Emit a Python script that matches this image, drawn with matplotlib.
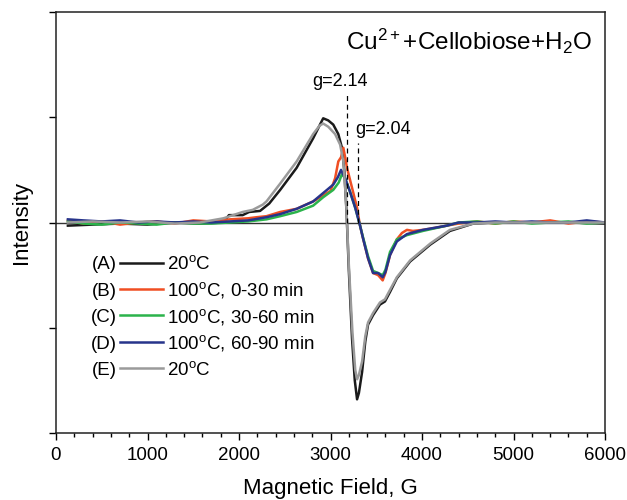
import matplotlib
matplotlib.use('Agg')
import matplotlib.pyplot as plt

plt.rcParams['font.family'] = ['Liberation Sans', 'DejaVu Sans']
plt.rcParams['mathtext.fontset'] = 'custom'
plt.rcParams['mathtext.rm'] = 'Liberation Sans'
plt.rcParams['mathtext.it'] = 'Liberation Sans:italic'
plt.rcParams['mathtext.bf'] = 'Liberation Sans:bold'

# (A) 20 C
field_a = [130, 400, 700, 1000, 1300, 1570, 1830, 1890, 2040, 2110, 2230, 2330, 2450, 2630,
           2810, 2885, 2920, 2975, 3030, 3085, 3125, 3150, 3175, 3200, 3235, 3265, 3290, 3310,
           3345, 3380, 3410, 3465, 3540, 3595, 3650, 3725, 3870, 4090, 4305, 4560, 4800, 5200,
           5600, 6000]
int_a = [-0.03, -0.02, -0.01, -0.02, 0.0, -0.01, 0.0, 0.07, 0.07, 0.10, 0.11, 0.18, 0.31, 0.52,
         0.80, 0.93, 0.99, 0.97, 0.93, 0.84, 0.71, 0.50, 0.10, -0.45, -1.10, -1.50, -1.68, -1.62,
         -1.42, -1.13, -0.97, -0.88, -0.78, -0.75, -0.66, -0.53, -0.37, -0.21, -0.08, -0.01, 0.0, 0.0,
         0.0, -0.01]

# (B) 100 C, 0-30 min
field_b = [130, 300, 500, 700, 900, 1100, 1300, 1500, 1700, 1900, 2100, 2190, 2300, 2450, 2630,
           2810, 3000, 3050, 3085, 3115, 3140, 3160, 3180, 3235, 3290, 3320, 3355, 3410, 3465,
           3520, 3570, 3600, 3650, 3725, 3780, 3835, 3900, 4010, 4150, 4270, 4400, 4600, 4800,
           5000, 5200, 5400, 5600, 5800, 6000]
int_b = [0.02, -0.01, 0.01, -0.02, 0.0, 0.01, -0.01, 0.02, 0.01, 0.03, 0.04, 0.05, 0.06, 0.10, 0.13,
         0.20, 0.30, 0.42, 0.58, 0.62, 0.71, 0.62, 0.52, 0.33, 0.14, -0.02, -0.15, -0.34, -0.48,
         -0.50, -0.55, -0.48, -0.31, -0.16, -0.10, -0.07, -0.08, -0.07, -0.05, -0.03, -0.01, 0.01, -0.01,
         0.01, 0.0, 0.02, -0.01, 0.01, 0.0]

# (C) 100 C, 30-60 min
field_c = [130, 300, 500, 700, 900, 1100, 1300, 1500, 1700, 1900, 2100, 2300, 2450, 2630, 2810,
           2920, 3030, 3090, 3125, 3160, 3210, 3270, 3320, 3355, 3410, 3465, 3520, 3570, 3600,
           3650, 3725, 3835, 4010, 4270, 4400, 4600, 4800, 5000, 5200, 5400, 5600, 5800, 6000]
int_c = [0.01, -0.01, -0.02, 0.0, -0.01, -0.02, 0.0, -0.01, -0.01, 0.0, 0.01, 0.03, 0.06, 0.10, 0.16,
         0.24, 0.31, 0.38, 0.46, 0.42, 0.30, 0.14, -0.02, -0.14, -0.32, -0.46, -0.48, -0.50, -0.45,
         -0.28, -0.16, -0.12, -0.08, -0.03, 0.0, 0.01, -0.01, 0.01, -0.01, 0.0, 0.01, -0.01, 0.0]

# (D) 100 C, 60-90 min
field_d = [130, 300, 500, 700, 900, 1100, 1300, 1500, 1700, 1900, 2100, 2300, 2450, 2630, 2810,
           2920, 3030, 3080, 3115, 3160, 3210, 3270, 3320, 3355, 3410, 3465, 3520, 3570, 3600,
           3650, 3725, 3835, 4010, 4270, 4400, 4600, 4800, 5000, 5200, 5400, 5600, 5800, 6000]
int_d = [0.03, 0.02, 0.01, 0.02, 0.0, 0.01, 0.0, 0.01, 0.0, 0.01, 0.02, 0.05, 0.08, 0.13, 0.20,
         0.28, 0.36, 0.43, 0.50, 0.42, 0.30, 0.14, -0.02, -0.15, -0.34, -0.48, -0.48, -0.52, -0.47,
         -0.31, -0.18, -0.11, -0.07, -0.03, 0.0, 0.0, 0.01, 0.0, 0.01, 0.0, 0.0, 0.02, 0.0]

# (E) 20 C
field_e = [130, 400, 700, 1000, 1300, 1570, 1830, 2040, 2150, 2260, 2300, 2450, 2630, 2810, 2880,
           2920, 2975, 3050, 3105, 3140, 3170, 3200, 3240, 3270, 3290, 3310, 3345, 3380, 3410,
           3465, 3540, 3595, 3650, 3725, 3870, 4090, 4305, 4560, 4800, 5200, 5600, 6000]
int_e = [0.0, 0.01, 0.0, 0.01, -0.01, 0.0, 0.04, 0.10, 0.12, 0.17, 0.20, 0.37, 0.58, 0.84, 0.92,
         0.94, 0.91, 0.84, 0.74, 0.58, 0.20, -0.40, -1.05, -1.40, -1.49, -1.45, -1.32, -1.08, -0.95,
         -0.86, -0.76, -0.73, -0.64, -0.52, -0.36, -0.20, -0.07, -0.01, 0.0, 0.0, 0.0, 0.0]

tags = ['(A)', '(B)', '(C)', '(D)', '(E)']
labels = [r'20$^\mathregular{o}$C', r'100$^\mathregular{o}$C, 0-30 min',
          r'100$^\mathregular{o}$C, 30-60 min', r'100$^\mathregular{o}$C, 60-90 min',
          r'20$^\mathregular{o}$C']
colors = ['#1a1a1a', '#f04e23', '#2bb34b', '#27348b', '#9a9a9a']

g_fields = [3180, 3300]
g_tops = [1.21, 0.76]
g_labels = ['g=2.14', 'g=2.04']
g_text_pos = [(2795, 1.30), (3268, 0.84)]

fig = plt.figure(figsize=(6.27, 5.0), dpi=100)
ax = fig.add_axes([0.0893, 0.134, 0.8757, 0.842])

ax.axhline(0, color='#333333', lw=1.0, zorder=1)

series = [(field_a, int_a), (field_b, int_b), (field_c, int_c), (field_d, int_d), (field_e, int_e)]
for (fx, fy), c in zip(series, colors):
    ax.plot(fx, fy, color=c, lw=1.8, zorder=2)

for gx, gt in zip(g_fields, g_tops):
    ax.plot([gx, gx], [0, gt], color='black', lw=0.9, ls=(0, (4, 3)), zorder=3)
for lab, (tx, ty) in zip(g_labels, g_text_pos):
    ax.text(tx, ty, lab, fontsize=13, ha='left', va='baseline')

ax.text(0.976, 0.910, r'Cu$^\mathregular{2+}$+Cellobiose+H$_\mathregular{2}$O',
        transform=ax.transAxes, fontsize=17.5, ha='right', va='baseline')

# legend drawn by hand: tag, line sample, label
for i, (t, lab, c) in enumerate(zip(tags, labels, colors)):
    y = 0.4045 - i * 0.0627
    ax.plot([0.1166, 0.1949], [y, y], color=c, lw=1.8, transform=ax.transAxes)
    ax.text(0.111, y - 0.016, t, transform=ax.transAxes, fontsize=13.5, ha='right', va='baseline')
    ax.text(0.202, y - 0.016, lab, transform=ax.transAxes, fontsize=13.5, ha='left', va='baseline')

ax.set_xlim(0, 6000)
ax.set_ylim(-2, 2)
ax.set_xticks(range(0, 6001, 1000))
ax.set_xticks(range(0, 6001, 200), minor=True)
ax.set_yticks([-2, -1, 0, 1, 2])
ax.set_yticklabels([])
ax.tick_params(axis='both', which='major', direction='out', length=5, width=1, labelsize=13.5, pad=5)
ax.tick_params(axis='x', which='minor', direction='out', length=3, width=1)
for s in ax.spines.values():
    s.set_linewidth(1.1)
    s.set_color('#222222')

ax.set_xlabel('Magnetic Field, G', fontsize=16, labelpad=10)
ax.set_ylabel('Intensity', fontsize=16, labelpad=7)

fig.savefig('out.png', dpi=100)
